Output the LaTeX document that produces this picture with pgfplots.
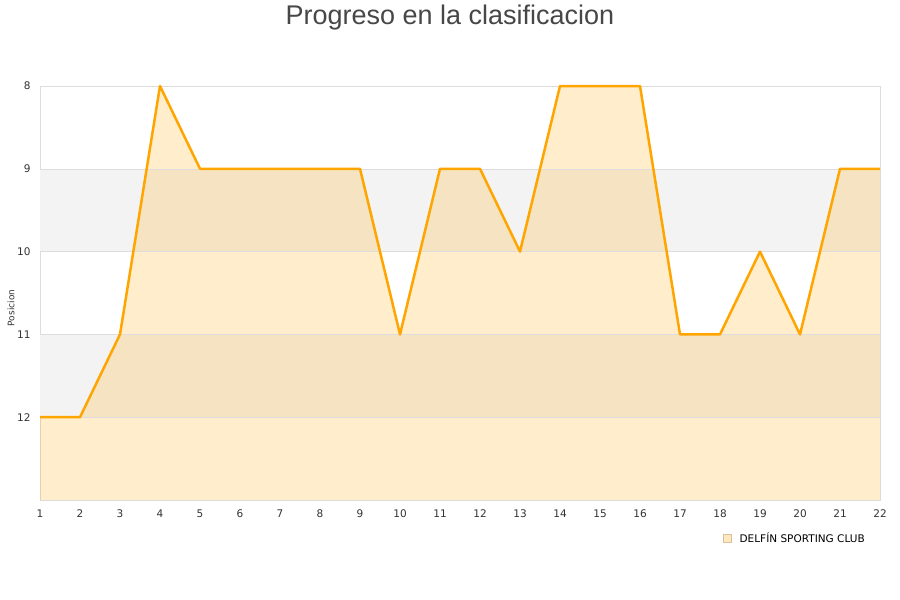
\documentclass[border=0pt]{standalone}
\usepackage{pgfplots}
\pgfplotsset{compat=1.18}
\usepackage{fontspec}
\setmainfont{DejaVu Sans}
\newfontfamily\titlefont{Liberation Sans}
\definecolor{lineor}{HTML}{FFA500}
\definecolor{band}{HTML}{F3F3F3}
\definecolor{gridc}{HTML}{DDDDDD}
\definecolor{txt}{HTML}{333333}
\begin{document}
\begin{tikzpicture}[x=1pt,y=1pt]
\useasboundingbox[fill=white] (0,0) rectangle (900,600);
\node[font=\titlefont\fontsize{27}{30}\selectfont, text=txt!90] at (450,582) {Progreso en la clasificacion};
\node[font=\fontsize{9}{11}\selectfont, text=txt, rotate=90] at (11,292) {Posicion};
\begin{axis}[
  at={(40pt,100pt)}, anchor=south west,
  scale only axis, width=840pt, height=414pt,
  xmin=1, xmax=22, ymin=8, ymax=13,
  y dir=reverse,
  xtick={1,...,22}, ytick={8,...,12},
  axis line style={gridc, line width=0.8pt},
  tick style={draw=none},
  ticklabel style={font=\fontsize{10.5}{12}\selectfont, text=txt},
  /pgf/number format/assume math mode=true,
  yticklabel style={xshift=-6pt},
  xticklabel style={yshift=-6pt},
  clip=false,
  legend style={at={(axis description cs:0.988,-0.069)}, anchor=north east, draw=none, fill=none, font=\fontsize{10.5}{12}\selectfont, text=black},
  legend image code/.code={\draw[lineor!60!black!40, fill=lineor!25, line width=0.5pt] (1pt,-4pt) rectangle (9pt,4pt);},
]
\addplot[fill=band, draw=none, forget plot] coordinates {(1,9) (22,9) (22,10) (1,10)} -- cycle;
\addplot[fill=band, draw=none, forget plot] coordinates {(1,11) (22,11) (22,12) (1,12)} -- cycle;
\addplot[fill=lineor, fill opacity=0.2, draw=none, forget plot] coordinates {
(1,13) (1,12) (2,12) (3,11) (4,8) (5,9) (6,9) (7,9) (8,9) (9,9) (10,11) (11,9)
(12,9) (13,10) (14,8) (15,8) (16,8) (17,11) (18,11) (19,10) (20,11) (21,9) (22,9) (22,13)} -- cycle;
\addplot[gridc, line width=0.6pt, forget plot] coordinates {(1,9) (22,9)};
\addplot[gridc, line width=0.6pt, forget plot] coordinates {(1,10) (22,10)};
\addplot[gridc, line width=0.6pt, forget plot] coordinates {(1,11) (22,11)};
\addplot[gridc, line width=0.6pt, forget plot] coordinates {(1,12) (22,12)};
\addplot[lineor, line width=2.5pt, line join=round, mark=none] coordinates {
(1,12) (2,12) (3,11) (4,8) (5,9) (6,9) (7,9) (8,9) (9,9) (10,11) (11,9)
(12,9) (13,10) (14,8) (15,8) (16,8) (17,11) (18,11) (19,10) (20,11) (21,9) (22,9)};
\addlegendentry{\hspace{6pt}DELFÍN SPORTING CLUB}
\end{axis}
\end{tikzpicture}
\end{document}
